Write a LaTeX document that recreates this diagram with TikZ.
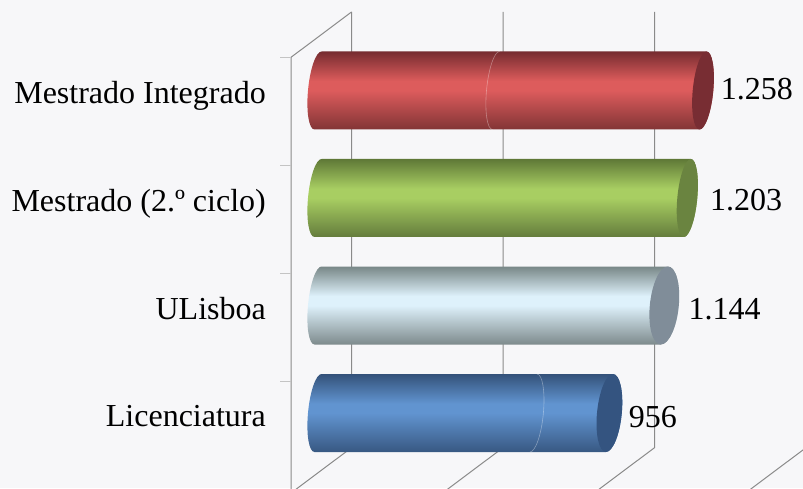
\documentclass[tikz,border=0pt]{standalone}
\usepackage{fontspec}
\setmainfont{Liberation Serif}
\definecolor{bgc}{HTML}{F7F7F9}
\definecolor{gridc}{HTML}{8A8A8A}
\definecolor{tickc}{HTML}{C4C4C4}
\definecolor{rdkA}{HTML}{762C30}
\definecolor{rmid}{HTML}{DD5C5C}
\definecolor{rdkB}{HTML}{823436}
\definecolor{rcap}{HTML}{782D33}
\definecolor{gdkA}{HTML}{5F7837}
\definecolor{gmid}{HTML}{A8CE62}
\definecolor{gdkB}{HTML}{647C3C}
\definecolor{gcap}{HTML}{6A8440}
\definecolor{ldkA}{HTML}{788787}
\definecolor{lmid}{HTML}{DEF1FB}
\definecolor{ldkB}{HTML}{7D8A8C}
\definecolor{lcap}{HTML}{808D99}
\definecolor{bdkA}{HTML}{34527A}
\definecolor{bmid}{HTML}{6194D0}
\definecolor{bdkB}{HTML}{385882}
\definecolor{bcap}{HTML}{345480}
\pgfdeclareverticalshading{redcyl}{100bp}{color(0bp)=(rdkB); color(25bp)=(rdkB); color(50bp)=(rmid); color(56bp)=(rmid); color(75bp)=(rdkA); color(100bp)=(rdkA)}
\pgfdeclareverticalshading{greencyl}{100bp}{color(0bp)=(gdkB); color(25bp)=(gdkB); color(50bp)=(gmid); color(56bp)=(gmid); color(75bp)=(gdkA); color(100bp)=(gdkA)}
\pgfdeclareverticalshading{lightcyl}{100bp}{color(0bp)=(ldkB); color(25bp)=(ldkB); color(50bp)=(lmid); color(56bp)=(lmid); color(75bp)=(ldkA); color(100bp)=(ldkA)}
\pgfdeclareverticalshading{bluecyl}{100bp}{color(0bp)=(bdkB); color(25bp)=(bdkB); color(50bp)=(bmid); color(56bp)=(bmid); color(75bp)=(bdkA); color(100bp)=(bdkA)}
% #1 centre y, #2 left centre x, #3 cap centre x, #4 cap x radius, #5 shading, #6 cap colour
\newcommand\mycyl[6]{%
  \begin{scope}[shift={(0,#1)}, xslant=0.09]
    \shade[shading=#5] (#2,39) -- (#3,39)
      arc[start angle=90,end angle=-90,x radius=#4,y radius=39]
      -- (#2,-39) arc[start angle=270,end angle=90,x radius=10,y radius=39] -- cycle;
    \fill[#6] (#3,0) ellipse[x radius=#4,y radius=39];
  \end{scope}}
\begin{document}
\begin{tikzpicture}[x=1pt,y=1pt,
  gridline/.style={gridc, line width=1pt},
  tickline/.style={tickc, line width=1pt},
  seamline/.style={white, opacity=0.35, line width=0.6pt},
  catlabel/.style={anchor=base east, inner sep=0pt, font=\fontsize{32}{38}\selectfont},
  vallabel/.style={anchor=base west, inner sep=0pt, font=\fontsize{32}{38}\selectfont}]
\useasboundingbox (0,0) rectangle (803,488);
\fill[bgc] (0,0) rectangle (803,488);
\clip (0,0) rectangle (803,488);
% walls and grid
\coordinate (lwtop) at (291,430.7);
\coordinate (lwbot) at (291,-1);
\coordinate (b0t) at (351.5,476);
\draw[gridline] (lwbot) -- (lwtop) -- (b0t);
\foreach \x [count=\i] in {351.5,503,654.5,806}{
  \coordinate (bt\i) at (\x,476);
  \coordinate (bb\i) at (\x,40.3);
  \coordinate (ff\i) at (\x-60.5,-5);
  \draw[gridline] (bt\i) -- (bb\i) -- (ff\i);
}
\foreach \y [count=\i] in {430.5,322.4,214.3,106.2}{
  \coordinate (ta\i) at (280,\y);
  \coordinate (tb\i) at (290.5,\y);
  \draw[tickline] (ta\i) -- (tb\i);
}
% cylinders
\mycyl{397.5}{318}{703}{10.3}{redcyl}{rcap}
\mycyl{290}{318}{687.3}{10}{greencyl}{gcap}
\mycyl{182.5}{318}{664.3}{14.5}{lightcyl}{lcap}
\mycyl{75}{318}{609.4}{12.4}{bluecyl}{bcap}
% faint seams
\begin{scope}[shift={(0,397.5)}, xslant=0.09]
  \draw[seamline] (496,39) arc[start angle=90,end angle=270,x radius=9.5,y radius=39];
\end{scope}
\begin{scope}[shift={(0,75)}, xslant=0.09]
  \draw[seamline] (533.4,39) arc[start angle=90,end angle=-90,x radius=10,y radius=39];
\end{scope}
% labels
\node[catlabel] (c1) at (266,384) {Mestrado Integrado};
\node[catlabel] (c2) at (266,276.5) {Mestrado (2.º ciclo)};
\node[catlabel] (c3) at (266,169) {ULisboa};
\node[catlabel] (c4) at (266,61.5) {Licenciatura};
\node[vallabel] (v1) at (720.7,388) {1.258};
\node[vallabel] (v2) at (710,277) {1.203};
\node[vallabel] (v3) at (688.3,169) {1.144};
\node[vallabel] (v4) at (628.6,61) {956};
\end{tikzpicture}
\end{document}
